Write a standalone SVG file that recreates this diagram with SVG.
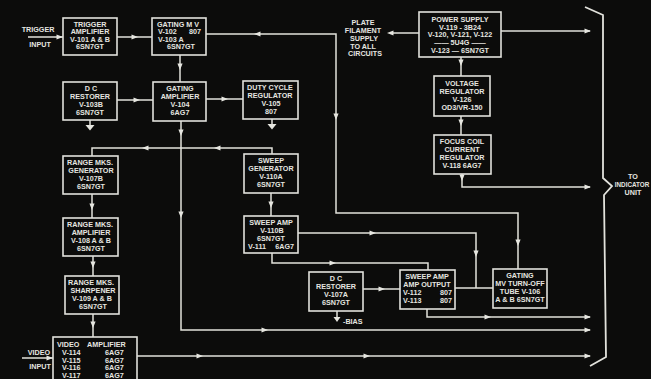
<svg xmlns="http://www.w3.org/2000/svg" width="651" height="379" viewBox="0 0 651 379">
<defs>
<style>
.box{fill:#0c0c0b;stroke:#e2e2dc;stroke-width:1.6}
.ln{fill:none;stroke:#e2e2dc;stroke-width:1.5}
.br{fill:none;stroke:#e2e2dc;stroke-width:1.8}
.t{font-family:"Liberation Sans",Arial,sans-serif;font-size:7.2px;font-weight:bold;fill:#e6e6e0;text-anchor:middle}
.s{text-anchor:start}
.e{text-anchor:end}
.ah{fill:#e6e6e0}
</style>
<path id="a" d="M-3.5,-2.6 L3,0 L-3.5,2.6 Z"/>
</defs>
<rect width="651" height="379" fill="#0c0c0b"/>

<g id="connectors">
<path class="ln" d="M28,37 H63"/>
<path class="ln" d="M117,37 H152"/>
<path class="ln" d="M180,55 V82"/>
<path class="ln" d="M117,100 H153"/>
<path class="ln" d="M90,120 V125"/>
<polygon class="ah" points="85.5,125 94.5,125 90,130.5"/>
<path class="ln" d="M206,99 H243"/>
<path class="ln" d="M272,119 V124"/>
<polygon class="ah" points="267.5,124 276.5,124 272,129.5"/>
<path class="ln" d="M206,34 H336 V213 H518 V269"/>
<path class="ln" d="M272,154 V148 H92 V156"/>
<path class="ln" d="M181,121 V330 H590"/>
<path class="ln" d="M92,194 V218"/>
<path class="ln" d="M93,256 V276"/>
<path class="ln" d="M93,314 V337"/>
<path class="ln" d="M22,358 H53"/>
<path class="ln" d="M137,356 H590"/>
<path class="ln" d="M271,193 V216"/>
<path class="ln" d="M298,233 H476 V288"/>
<path class="ln" d="M272,253 V263 H428 V270"/>
<path class="ln" d="M363,289 H400"/>
<path class="ln" d="M337,311 V317"/>
<polygon class="ah" points="333.5,317 340.5,317 337,322"/>
<path class="ln" d="M455,288 H493"/>
<path class="ln" d="M427,309 V317 H590"/>
<path class="ln" d="M419,33 H390"/>
<path class="ln" d="M501,31 H590"/>
<path class="ln" d="M461,57 V76"/>
<path class="ln" d="M461,116 V135"/>
<path class="ln" d="M462,174 V187 H590"/>
<polyline class="br" points="585,7 603,15 603,178 612,186 604,195 606,357 590,366"/>

<use href="#a" class="ah" transform="translate(60,37)"/>
<use href="#a" class="ah" transform="translate(135,37)"/>
<use href="#a" class="ah" transform="translate(180,67) rotate(90)"/>
<use href="#a" class="ah" transform="translate(137,100)"/>
<use href="#a" class="ah" transform="translate(225,99)"/>
<use href="#a" class="ah" transform="translate(257,34) rotate(180)"/>
<use href="#a" class="ah" transform="translate(336,117) rotate(90)"/>
<use href="#a" class="ah" transform="translate(518,243) rotate(90)"/>
<use href="#a" class="ah" transform="translate(217,148) rotate(180)"/>
<use href="#a" class="ah" transform="translate(145,148) rotate(180)"/>
<use href="#a" class="ah" transform="translate(181,133) rotate(90)"/>
<use href="#a" class="ah" transform="translate(181,215) rotate(90)"/>
<use href="#a" class="ah" transform="translate(265,330)"/>
<use href="#a" class="ah" transform="translate(588,330)"/>
<use href="#a" class="ah" transform="translate(92,207) rotate(90)"/>
<use href="#a" class="ah" transform="translate(93,265) rotate(90)"/>
<use href="#a" class="ah" transform="translate(93,325) rotate(90)"/>
<use href="#a" class="ah" transform="translate(50,358)"/>
<use href="#a" class="ah" transform="translate(200,356)"/>
<use href="#a" class="ah" transform="translate(367,356)"/>
<use href="#a" class="ah" transform="translate(588,356)"/>
<use href="#a" class="ah" transform="translate(271,205) rotate(90)"/>
<use href="#a" class="ah" transform="translate(373,233)"/>
<use href="#a" class="ah" transform="translate(476,254) rotate(90)"/>
<use href="#a" class="ah" transform="translate(333,263)"/>
<use href="#a" class="ah" transform="translate(382,289)"/>
<use href="#a" class="ah" transform="translate(488,317)"/>
<use href="#a" class="ah" transform="translate(588,317)"/>
<use href="#a" class="ah" transform="translate(390,33) rotate(180)"/>
<use href="#a" class="ah" transform="translate(588,31)"/>
<use href="#a" class="ah" transform="translate(461,63) rotate(90)"/>
<use href="#a" class="ah" transform="translate(461,123) rotate(90)"/>
<use href="#a" class="ah" transform="translate(462,178) rotate(90)"/>
<use href="#a" class="ah" transform="translate(588,187)"/>
</g>

<g id="labels">
<text class="t" x="38" y="31.5">TRIGGER</text>
<text class="t" x="40" y="46.5">INPUT</text>
<text class="t" x="39" y="354.5">VIDEO</text>
<text class="t" x="40" y="368.5">INPUT</text>
<text class="t s" x="343" y="324">-BIAS</text>
<text class="t" x="363" y="25">PLATE</text>
<text class="t" x="363" y="33">FILAMENT</text>
<text class="t" x="364" y="40.5">SUPPLY</text>
<text class="t" x="363" y="48.5">TO ALL</text>
<text class="t" x="365" y="56">CIRCUITS</text>
<text class="t" x="633" y="179">TO</text>
<text class="t" x="632" y="187" style="font-size:6.3px">INDICATOR</text>
<text class="t" x="633" y="195">UNIT</text>
</g>

<g id="trigger-amplifier">
<rect class="box" x="63" y="18" width="54" height="37"/>
<text class="t" x="90" y="26.5">TRIGGER</text>
<text class="t" x="90" y="34">AMPLIFIER</text>
<text class="t" x="90" y="41.5">V-101 A &amp; B</text>
<text class="t" x="90" y="49">6SN7GT</text>
</g>

<g id="gating-mv">
<rect class="box" x="152" y="18" width="54" height="37"/>
<text class="t" x="178" y="26.5">GATING M V</text>
<text class="t s" x="158" y="34">V-102</text>
<text class="t e" x="201" y="34">807</text>
<text class="t s" x="158" y="41.5">V-103 A</text>
<text class="t" x="181" y="49">6SN7GT</text>
</g>

<g id="dc-restorer-103b">
<rect class="box" x="63" y="82" width="54" height="38"/>
<text class="t" x="91" y="91">D C</text>
<text class="t" x="90" y="99">RESTORER</text>
<text class="t" x="91" y="107">V-103B</text>
<text class="t" x="90" y="115">6SN7GT</text>
</g>

<g id="gating-amplifier">
<rect class="box" x="153" y="82" width="53" height="39"/>
<text class="t" x="180" y="91">GATING</text>
<text class="t" x="180" y="99">AMPLIFIER</text>
<text class="t" x="180" y="107">V-104</text>
<text class="t" x="180" y="115">6AG7</text>
</g>

<g id="duty-cycle-regulator">
<rect class="box" x="243" y="81" width="55" height="38"/>
<text class="t" x="270" y="90">DUTY CYCLE</text>
<text class="t" x="270" y="98">REGULATOR</text>
<text class="t" x="271" y="106">V-105</text>
<text class="t" x="271" y="114">807</text>
</g>

<g id="power-supply">
<rect class="box" x="419" y="12" width="82" height="45"/>
<text class="t" x="460" y="21.5">POWER SUPPLY</text>
<text class="t" x="460" y="29.5">V-119 - 3B24</text>
<text class="t" x="460" y="37">V-120, V-121, V-122</text>
<text class="t" x="460" y="44.5">—— 5U4G ——</text>
<text class="t" x="460" y="52.5">V-123 — 6SN7GT</text>
</g>

<g id="voltage-regulator">
<rect class="box" x="434" y="76" width="56" height="40"/>
<text class="t" x="462" y="85.5">VOLTAGE</text>
<text class="t" x="462" y="93.5">REGULATOR</text>
<text class="t" x="462" y="102">V-126</text>
<text class="t" x="462" y="110">OD3/VR-150</text>
</g>

<g id="focus-coil-regulator">
<rect class="box" x="434" y="135" width="57" height="39"/>
<text class="t" x="462" y="144">FOCUS COIL</text>
<text class="t" x="462" y="152">CURRENT</text>
<text class="t" x="462" y="160">REGULATOR</text>
<text class="t" x="462" y="168">V-118  6AG7</text>
</g>

<g id="range-mks-generator">
<rect class="box" x="63" y="156" width="55" height="38"/>
<text class="t" x="90" y="165">RANGE MKS.</text>
<text class="t" x="91" y="173">GENERATOR</text>
<text class="t" x="91" y="181">V-107B</text>
<text class="t" x="91" y="189">6SN7GT</text>
</g>

<g id="sweep-generator">
<rect class="box" x="244" y="154" width="54" height="39"/>
<text class="t" x="271" y="163">SWEEP</text>
<text class="t" x="271" y="171">GENERATOR</text>
<text class="t" x="271" y="179">V-110A</text>
<text class="t" x="271" y="187">6SN7GT</text>
</g>

<g id="range-mks-amplifier">
<rect class="box" x="63" y="218" width="55" height="38"/>
<text class="t" x="90" y="227">RANGE MKS.</text>
<text class="t" x="91" y="235">AMPLIFIER</text>
<text class="t" x="91" y="243">V-108 A &amp; B</text>
<text class="t" x="91" y="251">6SN7GT</text>
</g>

<g id="sweep-amp">
<rect class="box" x="244" y="216" width="54" height="37"/>
<text class="t" x="271" y="224.5">SWEEP AMP</text>
<text class="t" x="272" y="232.5">V-110B</text>
<text class="t" x="271" y="240.5">6SN7GT</text>
<text class="t s" x="248" y="248.5">V-111</text>
<text class="t e" x="294" y="248.5">6AG7</text>
</g>

<g id="range-mks-sharpener">
<rect class="box" x="65" y="276" width="54" height="38"/>
<text class="t" x="91" y="285">RANGE MKS.</text>
<text class="t" x="93" y="293">SHARPENER</text>
<text class="t" x="92" y="301">V-109 A &amp; B</text>
<text class="t" x="93" y="309">6SN7GT</text>
</g>

<g id="dc-restorer-107a">
<rect class="box" x="309" y="272" width="54" height="39"/>
<text class="t" x="336" y="281">D C</text>
<text class="t" x="336" y="289">RESTORER</text>
<text class="t" x="336" y="297">V-107A</text>
<text class="t" x="336" y="305">6SN7GT</text>
</g>

<g id="sweep-amp-output">
<rect class="box" x="400" y="270" width="55" height="39"/>
<text class="t" x="427" y="279">SWEEP AMP</text>
<text class="t" x="427" y="287">AMP OUTPUT</text>
<text class="t s" x="403" y="295">V-112</text>
<text class="t e" x="452" y="295">807</text>
<text class="t s" x="403" y="303">V-113</text>
<text class="t e" x="452" y="303">807</text>
</g>

<g id="gating-mv-turn-off">
<rect class="box" x="493" y="269" width="54" height="39"/>
<text class="t" x="520" y="278">GATING</text>
<text class="t" x="520" y="286">MV TURN-OFF</text>
<text class="t" x="520" y="294">TUBE V-106</text>
<text class="t" x="520" y="302">A &amp; B 6SN7GT</text>
</g>

<g id="video-amplifier">
<rect class="box" x="53" y="337" width="84" height="50"/>
<text class="t s" x="57" y="347">VIDEO</text>
<text class="t s" x="87" y="347">AMPLIFIER</text>
<text class="t s" x="62" y="355">V-114</text>
<text class="t s" x="105" y="355">6AG7</text>
<text class="t s" x="62" y="362.5">V-115</text>
<text class="t s" x="105" y="362.5">6AG7</text>
<text class="t s" x="62" y="370">V-116</text>
<text class="t s" x="105" y="370">6AG7</text>
<text class="t s" x="62" y="377.5">V-117</text>
<text class="t s" x="105" y="377.5">6AG7</text>
</g>
</svg>
